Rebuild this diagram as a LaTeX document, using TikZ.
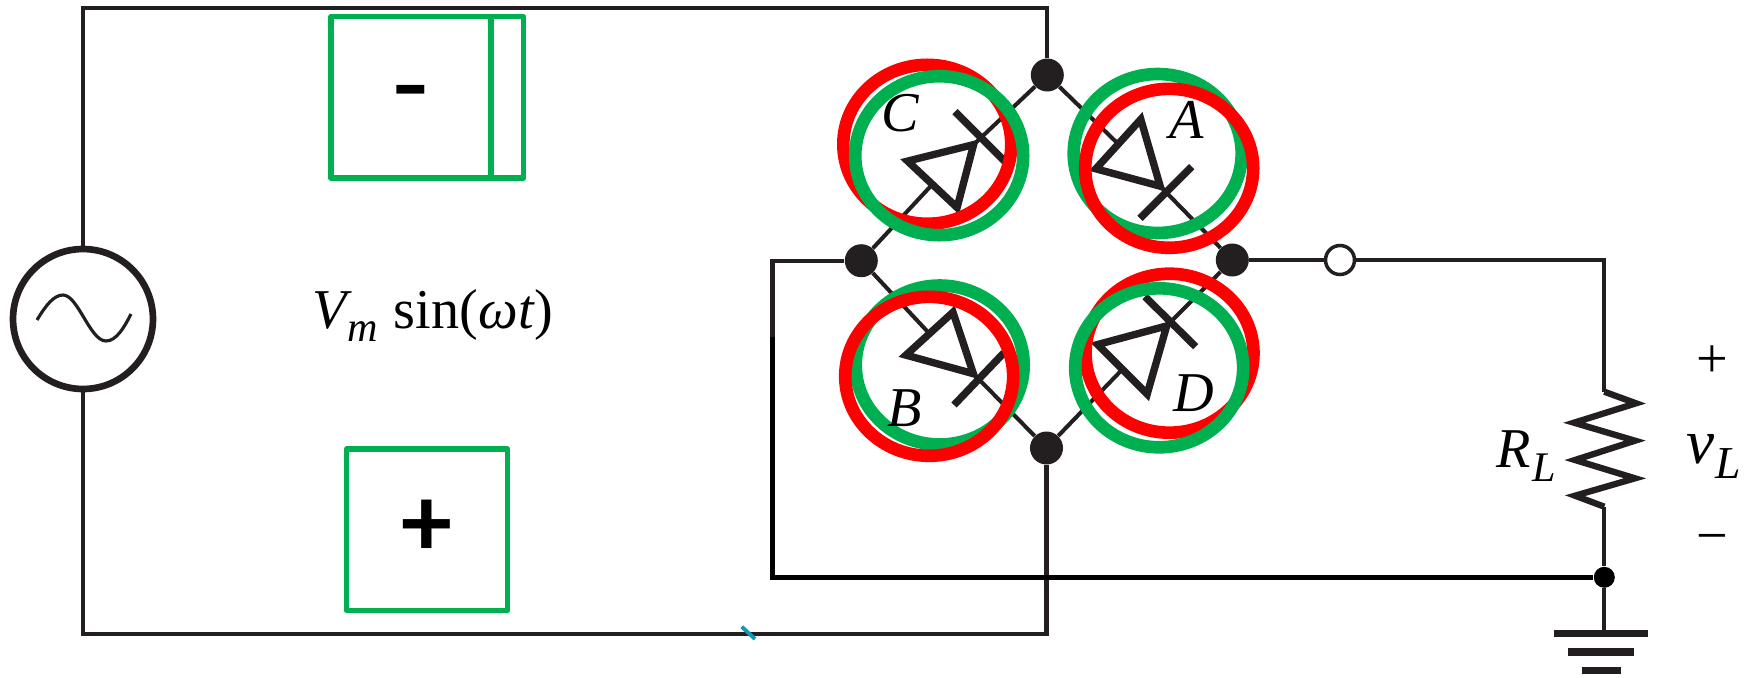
\documentclass[tikz,border=0pt]{standalone}
\usepackage{fontspec}
\setmainfont{Liberation Serif}
\newfontfamily\glyphfont{Carlito}
\usetikzlibrary{calc, shapes.geometric}
\definecolor{RingRed}{RGB}{255, 0, 0}
\definecolor{RingGreen}{RGB}{0, 176, 80}
\definecolor{WireDark}{RGB}{35, 31, 32}
\definecolor{SpeckTeal}{RGB}{20, 150, 180}
\tikzset{
    wire/.style={WireDark, line width=2.3pt},
    blackwire/.style={black, line width=2.8pt},
    diode/.style={WireDark, line width=4.2pt, miter limit=10},
    junction/.style={circle, fill=WireDark, inner sep=0pt, minimum size=0.66cm},
    ring/.style={ellipse, draw, line width=7.2pt, inner sep=0pt, minimum width=3.36cm, minimum height=3.18cm},
    signbox/.style={rectangle, draw=RingGreen, line width=3.1pt, line join=round, inner sep=0pt},
    lab/.style={inner sep=0pt, anchor=base west, font=\fontsize{32}{32}\selectfont\itshape},
    sublab/.style={inner sep=0pt, anchor=base west, font=\fontsize{24}{24}\selectfont\itshape},
    minussign/.style={inner sep=0pt, anchor=base, font=\glyphfont\fontsize{68}{68}\selectfont},
    plussign/.style={inner sep=0pt, anchor=base, font=\glyphfont\bfseries\fontsize{58}{58}\selectfont},
    smallsign/.style={inner sep=0pt, anchor=base, font=\fontsize{32}{32}\selectfont},
    gbar/.style={WireDark, line width=4.2pt}
}

\begin{document}
\begin{tikzpicture}[x=0.02cm, y=-0.02cm]
    \useasboundingbox (0,0) rectangle (1752,677);

    % Nodos del puente y fuente
    \node[junction] (jtop) at (1047.3,75) {};
    \node[junction] (jleft) at (861.3,260.7) {};
    \node[junction] (jright) at (1232.3,260) {};
    \node[junction] (jbot) at (1046.5,448) {};
    \node[circle, draw=WireDark, line width=3.8pt, inner sep=0pt, minimum size=2.8cm] (src) at (83,319) {};
    \node[circle, draw=WireDark, fill=white, line width=2pt, inner sep=0pt, minimum size=0.58cm] (nout) at (1340,260) {};
    \node[circle, fill=black, inner sep=0pt, minimum size=0.42cm] (nload) at (1604.3,577.3) {};

    % Esquinas
    \coordinate (ctl) at (83,8);
    \coordinate (cbl) at (83,634);
    \coordinate (cup) at (772.5,260.7);
    \coordinate (cmid) at (772.5,337);
    \coordinate (clow) at (772.5,577.3);
    \coordinate (rtop) at (1604.3,391.7);
    \coordinate (rbot) at (1604.3,506.7);
    \coordinate (gnd) at (1604.3,633.7);

    % Cables
    \draw[wire] (src) -- (ctl) -| (jtop);
    \draw[wire] (src) -- (cbl) -| (jbot);
    \draw[wire] (jright) -- (nout);
    \draw[wire] (nout) -| (rtop);
    \draw[wire] (rbot) -- (nload);
    \draw[wire] (nload) -- (gnd);
    \draw[wire] (jleft) -- (cup) -- (cmid);
    \draw[blackwire] (cmid) -- (clow) -- (nload);
    \draw[SpeckTeal, line width=2.2pt] (741.7,626.7) -- (755,639);

    % Diodos: base, vertice y barra
    \foreach \n/\bx/\by/\cx/\cy/\ax/\ay/\px/\py/\qx/\qy/\s/\e in {
        C/907.6/161.1/957.1/207.6/973.6/144.6/955/111.7/1005/161.7/jleft/jtop,
        A/1140.8/119.3/1095.8/168.8/1160.2/186.2/1191.7/166.7/1140/218.3/jtop/jright,
        B/953/312.2/905.9/355.1/973.4/373.7/1004/352.7/954/405/jleft/jbot,
        D/1097.7/344.5/1147.2/394/1166.7/325.9/1145/296.7/1195.7/346.7/jbot/jright} {
        \coordinate (\n1) at (\bx,\by);
        \coordinate (\n2) at (\cx,\cy);
        \coordinate (\n3) at (\ax,\ay);
        \draw[wire] (\s) -- ($(\n1)!0.5!(\n2)$);
        \draw[wire] (\n3) -- (\e);
        \draw[diode] (\n1) -- (\n2) -- (\n3) -- cycle;
        \draw[diode] (\px,\py) -- (\qx,\qy);
    }

    % Resistencia
    \draw[WireDark, line width=3.6pt, miter limit=10] (rtop) -- (1636,403.3) -- (1574,422.7) -- (1635,440.7)
        -- (1575,460) -- (1635,478.3) -- (1575,495.7) -- (rbot);

    % Tierra y onda
    \draw[gbar] (1554.3,633.7) -- (1648.3,633.7);
    \draw[gbar] (1568.3,652) -- (1634.3,652);
    \draw[gbar] (1581.7,670.3) -- (1621,670.3);
    \draw[WireDark, line width=1.8pt] (37,320) .. controls (46,305) and (54,295) .. (63,295)
        .. controls (78,295) and (90,341) .. (106,341) .. controls (116,341) and (124,328) .. (131,314);

    % Anillos rojos y verdes
    \foreach \n/\x/\y/\col in {
        redC/927.3/144.3/RingRed,
        greenC/939.2/155.7/RingGreen,
        greenA/1157.7/153.5/RingGreen,
        redA/1169.2/168.3/RingRed,
        greenB/939.7/365/RingGreen,
        redB/929.2/376.3/RingRed,
        redD/1169.5/353.2/RingRed,
        greenD/1159.2/367.8/RingGreen} {
        \node[ring, draw=\col] (\n) at (\x,\y) {};
    }

    % Cajas de signo
    \node[signbox, minimum width=3.2cm, minimum height=3.23cm] (boxminus) at (411,97.2) {};
    \node[signbox, minimum width=0.65cm, minimum height=3.23cm] (boxside) at (507.4,97.2) {};
    \node[signbox, minimum width=3.22cm, minimum height=3.23cm] (boxplus) at (427,529.8) {};
    \node[minussign] (minus) at (411,123.6) {-};
    \node[plussign] (plus) at (427,556) {+};

    % Etiquetas
    \node[lab] (labC) at (881,131.7) {C};
    \node[lab] (labA) at (1169,138.3) {A};
    \node[lab] (labB) at (887,426.7) {B};
    \node[lab] (labD) at (1173,411.7) {D};
    \node[inner sep=0pt, anchor=base west, font=\fontsize{32}{32}\selectfont] (vsrc) at (312,328)
        {\textit{V}\kern-2.5pt\raisebox{-7.5pt}{\fontsize{24}{24}\selectfont\textit{m}}\kern1pt\ sin(\textit{ωt})};
    \node[lab] (labR) at (1495.7,467) {R};
    \node[sublab] (subR) at (1531.7,481.7) {L};
    \node[lab, font=\fontsize{36}{36}\selectfont\itshape] (labv) at (1686,463) {v};
    \node[sublab, font=\fontsize{26}{26}\selectfont\itshape] (subv) at (1715,478) {L};
    \node[smallsign] (plusL) at (1712.7,377) {+};
    \node[smallsign] (minusL) at (1712.7,554.5) {−};
\end{tikzpicture}
\end{document}
